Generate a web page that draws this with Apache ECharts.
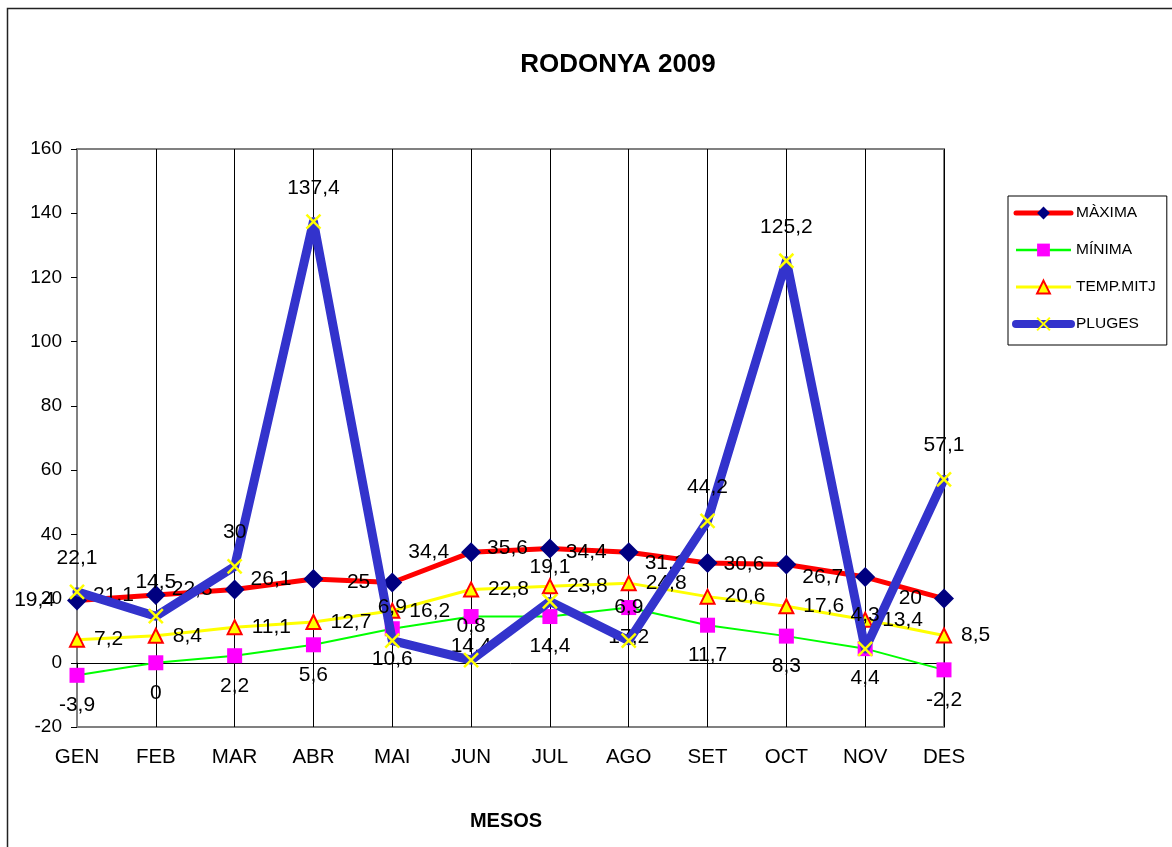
<!DOCTYPE html>
<html>
<head>
<meta charset="utf-8">
<script src="https://cdn.jsdelivr.net/npm/echarts@6/dist/echarts.min.js"></script>
<style>
html,body{margin:0;padding:0;background:#fff;}
#c{width:1172px;height:847px;}
</style>
</head>
<body>
<div id="c"></div>
<script>
var months = ['GEN','FEB','MAR','ABR','MAI','JUN','JUL','AGO','SET','OCT','NOV','DES'];
var maxima = [19.4, 21.1, 22.8, 26.1, 25, 34.4, 35.6, 34.4, 31.1, 30.6, 26.7, 20];
var minima = [-3.9, 0, 2.2, 5.6, 10.6, 14.4, 14.4, 17.2, 11.7, 8.3, 4.4, -2.2];
var tempMitj = [7.2, 8.4, 11.1, 12.7, 16.2, 22.8, 23.8, 24.8, 20.6, 17.6, 13.4, 8.5];
var pluges = [22.1, 14.5, 30, 137.4, 6.9, 0.8, 19.1, 6.9, 44.2, 125.2, 4.3, 57.1];

var FONT = '"Liberation Sans", Arial, sans-serif';
function fmt(p){ return String(p.value).replace('.', ','); }
function lbl(pos, dist){
  return {show:true, position:pos, distance:dist, formatter:fmt, color:'#000', fontSize:21, fontFamily:FONT};
}
var X_PATH = 'path://M0,0L10,10M10,0L0,10';

var chart = echarts.init(document.getElementById('c'));
chart.setOption({
  animation:false,
  backgroundColor:'#fff',
  textStyle:{fontFamily:FONT},
  graphic:[
    {type:'rect', shape:{x:7.5, y:8.5, width:1200, height:900}, style:{fill:'none', stroke:'#222', lineWidth:1.5}, z:-10},
    {type:'text', x:618, y:65, style:{text:'RODONYA 2009', font:'bold 26px '+FONT, fill:'#000', textAlign:'center', textVerticalAlign:'middle'}},
    {type:'text', x:506, y:821, style:{text:'MESOS', font:'bold 20px '+FONT, fill:'#000', textAlign:'center', textVerticalAlign:'middle'}}
  ],
  grid:{left:77, right:228, top:149, bottom:120, show:true, borderColor:'#808080', borderWidth:2, backgroundColor:'#fff', containLabel:false},
  legend:{
    orient:'vertical', left:1008, top:196,
    padding:[9,11,13,4], itemGap:21, itemWidth:55, itemHeight:16,
    borderColor:'#000', borderWidth:1, backgroundColor:'#fff', borderRadius:0,
    textStyle:{fontSize:15.5, color:'#000', fontFamily:FONT},
    data:[
      {name:'MÀXIMA', lineStyle:{width:5, color:'#FF0000', cap:'round'}},
      {name:'MÍNIMA', lineStyle:{width:2.5, color:'#00FF00'}},
      {name:'TEMP.MITJ', lineStyle:{width:3, color:'#FFFF00'}},
      {name:'PLUGES', lineStyle:{width:8, color:'#3333CC', cap:'round'}}
    ]
  },
  xAxis:[
    {type:'category', data:months, boundaryGap:false,
     axisLine:{show:false, onZero:false}, axisTick:{show:false},
     axisLabel:{fontSize:20.5, color:'#000', margin:20, fontFamily:FONT},
     splitLine:{show:true, lineStyle:{color:'#000', width:1}}},
    {type:'category', data:months, boundaryGap:false, position:'bottom',
     axisLine:{show:true, onZero:true, lineStyle:{color:'#000', width:1}},
     axisTick:{show:true, inside:false, length:6, lineStyle:{color:'#000'}},
     axisLabel:{show:false}, splitLine:{show:false}}
  ],
  yAxis:{type:'value', min:-20, max:160, interval:20,
    axisLine:{show:true, lineStyle:{color:'#808080', width:2}},
    axisTick:{show:true, length:6, lineStyle:{color:'#000'}},
    axisLabel:{fontSize:19, color:'#000', margin:15, fontFamily:FONT},
    splitLine:{show:false}},
  series:[
    {name:'MÀXIMA', type:'line', data:maxima, symbol:'diamond', symbolSize:20,
     lineStyle:{color:'#FF0000', width:5}, itemStyle:{color:'#000080'}, label:lbl('left',12), z:2},
    {name:'MÍNIMA', type:'line', data:minima, symbol:'rect', symbolSize:15,
     lineStyle:{color:'#00FF00', width:2}, itemStyle:{color:'#FF00FF'}, label:lbl('bottom',12), z:2},
    {name:'TEMP.MITJ', type:'line', data:tempMitj, symbol:'triangle', symbolSize:14,
     lineStyle:{color:'#FFFF00', width:3}, itemStyle:{color:'#FFFF00', borderColor:'#FF0000', borderWidth:2}, label:lbl('right',9), z:2},
    {name:'PLUGES', type:'line', data:pluges, symbol:X_PATH, symbolSize:14,
     lineStyle:{color:'#3333CC', width:9, cap:'round', join:'round'}, itemStyle:{color:'rgba(0,0,0,0)', borderColor:'#FFFF00', borderWidth:2.5}, label:lbl('top',15), z:3}
  ]
});
</script>
</body>
</html>
